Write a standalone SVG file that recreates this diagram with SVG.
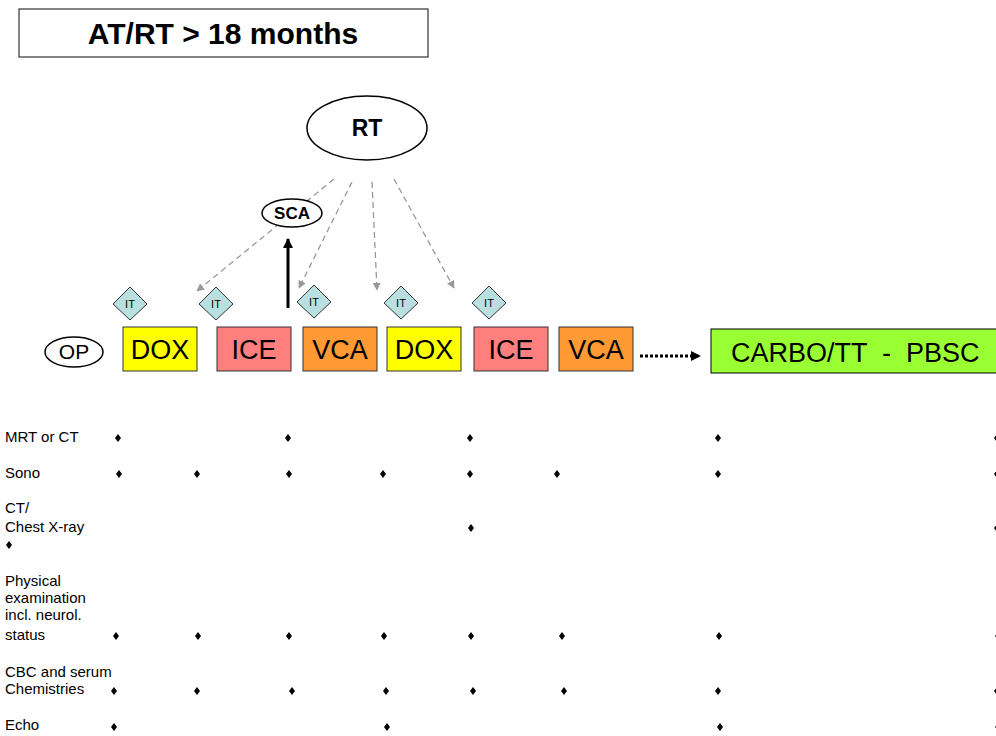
<svg xmlns="http://www.w3.org/2000/svg" width="996" height="736" viewBox="0 0 996 736">
<style>
text{font-family:"Liberation Sans",Arial,sans-serif;fill:#000}
.box{stroke:#333;stroke-width:1}
.bl{font-size:27px;text-anchor:middle}
.lab{font-size:15px}
.it{fill:#b9e0e0;stroke:#333;stroke-width:1}
.itt{font-size:11px;text-anchor:middle}
.dash{stroke:#999;stroke-width:1.3;stroke-dasharray:6,4;fill:none}
</style>
<defs>
<marker id="ga" viewBox="0 0 10 10" refX="9" refY="5" markerWidth="8" markerHeight="8" markerUnits="userSpaceOnUse" orient="auto"><path d="M0,0 L10,5 L0,10 Z" fill="#999"/></marker>
<marker id="ba" viewBox="0 0 10 10" refX="9" refY="5" markerWidth="10" markerHeight="10" markerUnits="userSpaceOnUse" orient="auto"><path d="M0,0 L10,5 L0,10 Z" fill="#000"/></marker>
<path id="d" d="M0,-4 L3,0 L0,4 L-3,0 Z" fill="#000"/>
</defs>
<rect width="996" height="736" fill="#fff"/>
<g id="title"><rect x="19" y="9" width="409" height="48" fill="#fff" stroke="#333" stroke-width="1.2"/><text x="223" y="44" font-size="30" font-weight="bold" text-anchor="middle">AT/RT &gt; 18 months</text></g>
<g id="connectors">
<line class="dash" x1="334" y1="179" x2="197" y2="291" marker-end="url(#ga)"/>
<line class="dash" x1="352" y1="182" x2="299" y2="288" marker-end="url(#ga)"/>
<line class="dash" x1="372" y1="182" x2="377" y2="290" marker-end="url(#ga)"/>
<line class="dash" x1="394" y1="179" x2="454" y2="288" marker-end="url(#ga)"/>
<line x1="288" y1="308" x2="288" y2="239" stroke="#000" stroke-width="3" marker-end="url(#ba)"/>
<line x1="640" y1="356" x2="700" y2="356" stroke="#000" stroke-width="3" stroke-dasharray="3,2" marker-end="url(#ba)"/>
</g>
<g id="rt"><ellipse cx="367" cy="128" rx="60" ry="32" fill="#fff" stroke="#000" stroke-width="1.5"/><text x="367" y="136" font-size="23" font-weight="bold" text-anchor="middle">RT</text></g>
<g id="sca"><ellipse cx="292" cy="213" rx="30" ry="14" fill="#fff" stroke="#000" stroke-width="1.5"/><text x="292" y="219" font-size="17" font-weight="bold" text-anchor="middle">SCA</text></g>
<g id="it1"><path class="it" d="M130,287 L147,304 L130,320 L113,304 Z"/><text class="itt" x="130" y="308">IT</text></g>
<g id="it2"><path class="it" d="M216,287 L233,304 L216,320 L199,304 Z"/><text class="itt" x="216" y="308">IT</text></g>
<g id="it3"><path class="it" d="M314,285 L331,302 L314,318 L297,302 Z"/><text class="itt" x="314" y="306">IT</text></g>
<g id="it4"><path class="it" d="M401,286 L418,303 L401,319 L384,303 Z"/><text class="itt" x="401" y="307">IT</text></g>
<g id="it5"><path class="it" d="M489,286 L506,303 L489,319 L472,303 Z"/><text class="itt" x="489" y="307">IT</text></g>
<g id="op"><ellipse cx="74" cy="352" rx="29" ry="15" fill="#fff" stroke="#000" stroke-width="1.5"/><text x="74" y="359" font-size="21" text-anchor="middle">OP</text></g>
<g id="dox1"><rect class="box" x="123" y="327" width="74" height="44" fill="#ffff00"/><text class="bl" x="160" y="359">DOX</text></g>
<g id="ice1"><rect class="box" x="217" y="327" width="74" height="44" fill="#ff7f7f"/><text class="bl" x="254" y="359">ICE</text></g>
<g id="vca1"><rect class="box" x="303" y="327" width="74" height="44" fill="#ff9933"/><text class="bl" x="340" y="359">VCA</text></g>
<g id="dox2"><rect class="box" x="387" y="327" width="74" height="44" fill="#ffff00"/><text class="bl" x="424" y="359">DOX</text></g>
<g id="ice2"><rect class="box" x="474" y="327" width="74" height="44" fill="#ff7f7f"/><text class="bl" x="511" y="359">ICE</text></g>
<g id="vca2"><rect class="box" x="559" y="327" width="74" height="44" fill="#ff9933"/><text class="bl" x="596" y="359">VCA</text></g>
<g id="carbo"><rect x="711" y="329" width="295" height="44" fill="#99ff33" stroke="#000" stroke-width="1"/><text x="731" y="362" font-size="27" xml:space="preserve">CARBO/TT  -  PBSC</text></g>
<g id="table">
<text class="lab" x="5" y="442">MRT or CT</text>
<text class="lab" x="5" y="478">Sono</text>
<text class="lab" x="5" y="513">CT/</text>
<text class="lab" x="5" y="532">Chest X-ray</text>
<text class="lab" x="5" y="586">Physical</text>
<text class="lab" x="5" y="603">examination</text>
<text class="lab" x="5" y="620">incl. neurol.</text>
<text class="lab" x="5" y="640">status</text>
<text class="lab" x="5" y="677">CBC and serum</text>
<text class="lab" x="5" y="694">Chemistries</text>
<text class="lab" x="5" y="730">Echo</text>
<use href="#d" x="9" y="545"/>
<use href="#d" x="118" y="438"/><use href="#d" x="288" y="438"/><use href="#d" x="470" y="438"/><use href="#d" x="718" y="438"/><use href="#d" x="997" y="438"/>
<use href="#d" x="119" y="474"/><use href="#d" x="197" y="474"/><use href="#d" x="289" y="474"/><use href="#d" x="383" y="474"/><use href="#d" x="470" y="474"/><use href="#d" x="557" y="474"/><use href="#d" x="718" y="474"/><use href="#d" x="997" y="474"/>
<use href="#d" x="471" y="528"/><use href="#d" x="997" y="528"/>
<use href="#d" x="116" y="636"/><use href="#d" x="198" y="636"/><use href="#d" x="289" y="636"/><use href="#d" x="384" y="636"/><use href="#d" x="471" y="636"/><use href="#d" x="562" y="636"/><use href="#d" x="719" y="636"/><use href="#d" x="998" y="636"/>
<use href="#d" x="114" y="691"/><use href="#d" x="197" y="691"/><use href="#d" x="292" y="691"/><use href="#d" x="386" y="691"/><use href="#d" x="473" y="691"/><use href="#d" x="564" y="691"/><use href="#d" x="718" y="691"/><use href="#d" x="997" y="691"/>
<use href="#d" x="114" y="727"/><use href="#d" x="387" y="727"/><use href="#d" x="720" y="727"/><use href="#d" x="998" y="727"/>
</g>
</svg>
